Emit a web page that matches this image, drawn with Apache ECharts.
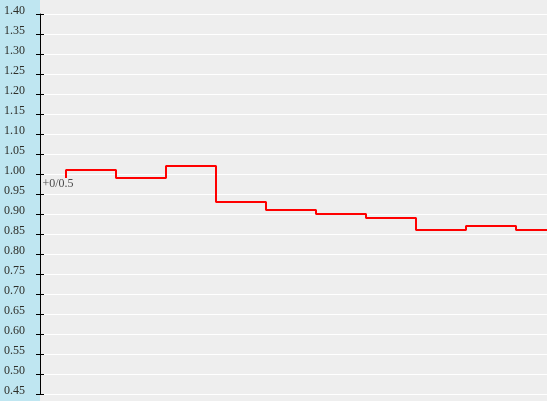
<!DOCTYPE html>
<html><head><meta charset="utf-8">
<script src="https://cdn.jsdelivr.net/npm/echarts@6/dist/echarts.min.js"></script>
<style>html,body{margin:0;padding:0;background:#eeeeee}#c{width:547px;height:401px}</style>
</head><body><div id="c"></div>
<script>
var xSteps = [0, 1, 2, 3, 4, 5, 6, 7, 8, 9, 10];
var oddsValues = [0.99, 1.01, 0.99, 1.02, 0.93, 0.91, 0.90, 0.89, 0.86, 0.87, 0.86];
var startLabel = '+0/0.5';
var yMin = 0.45, yMax = 1.40, yStep = 0.05;

var chart = echarts.init(document.getElementById('c'), null, {renderer: 'canvas'});
var font = 'Liberation Serif';
var gridPos = {left: 40, right: 0, top: 14, bottom: 7, containLabel: false};
var lineData = xSteps.map(function (x, i) { return [x, oddsValues[i]]; });

chart.setOption({
  backgroundColor: '#eeeeee',
  animation: false,
  graphic: [{type: 'rect', left: 0, top: 0, shape: {width: 40, height: 401}, style: {fill: '#bfe6f1'}, z: -10}],
  grid: [Object.assign({}, gridPos), Object.assign({}, gridPos)],
  xAxis: [
    {type: 'value', gridIndex: 0, min: -0.52, max: 9.62, show: false},
    {type: 'value', gridIndex: 1, min: -0.52, max: 9.62, show: false}
  ],
  yAxis: [
    {type: 'value', gridIndex: 0, min: yMin, max: yMax, interval: yStep,
     axisLine: {show: true, onZero: false, lineStyle: {color: '#000', width: 1}},
     axisTick: {show: true, inside: false, length: 4, lineStyle: {color: '#000'}},
     axisLabel: {show: true, margin: 15, color: '#2e2e28', fontFamily: font, fontSize: 12,
                 verticalAlign: 'bottom', lineHeight: 6, showMinLabel: true, showMaxLabel: true,
                 formatter: function (v) { return v.toFixed(2); }},
     splitLine: {show: true, lineStyle: {color: '#ffffff', width: 1}}},
    {type: 'value', gridIndex: 1, min: yMin, max: yMax, interval: yStep,
     axisLine: {show: false, onZero: false},
     axisTick: {show: true, inside: true, length: 4, lineStyle: {color: '#000'}},
     axisLabel: {show: false}, splitLine: {show: false}}
  ],
  series: [
    {type: 'line', xAxisIndex: 0, yAxisIndex: 0, step: 'start', data: lineData,
     showSymbol: false, symbol: 'none', clip: true,
     lineStyle: {color: '#ff0000', width: 2}, z: 5},
    {type: 'scatter', xAxisIndex: 0, yAxisIndex: 0, data: [lineData[0]], symbolSize: 1,
     itemStyle: {color: 'rgba(0,0,0,0)'},
     label: {show: true, position: 'inside', offset: [-8, 6], formatter: startLabel,
             color: '#222', fontFamily: font, fontSize: 12}, z: 6}
  ]
});
</script></body></html>
